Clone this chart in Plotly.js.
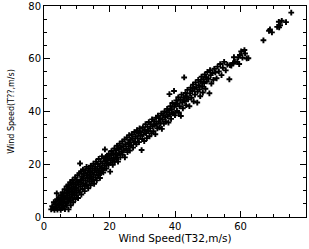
<!DOCTYPE html>
<html>
<head>
<meta charset="utf-8">
<script src="https://cdn.plot.ly/plotly-3.0.1.min.js"></script>
<style>html,body{margin:0;padding:0;background:#fff;}#chart{width:309px;height:249px;}</style>
</head>
<body>
<div id="chart"></div>
<script>
// Wind speed from T32 (x) versus wind speed from T?? (y), m/s
const windT32 = [
  2.2,2.5,2.8,3.0,3.2,3.4,3.6,3.7,3.9,4.0,4.1,4.3,4.5,4.6,4.8,
  5.0,5.1,5.2,5.3,5.5,5.6,5.7,5.8,6.0,6.1,6.2,6.3,6.4,6.5,6.6,
  6.8,6.9,7.0,7.1,7.2,7.3,7.4,7.5,7.6,7.7,7.8,7.9,8.0,8.1,8.2,
  8.3,8.4,8.5,8.6,8.7,8.8,8.9,9.0,9.1,9.2,9.3,9.5,9.6,9.7,9.8,9.9,10.0,10.0,
  10.2,10.3,10.4,10.5,10.6,10.8,10.9,11.0,11.1,11.2,11.3,11.4,11.5,11.6,11.8,11.9,12.0,
  12.1,12.2,12.4,12.5,12.6,12.7,12.9,13.0,13.1,13.3,13.4,13.5,13.7,13.8,13.9,14.0,14.1,14.2,
  14.3,14.4,14.6,14.7,14.8,15.0,15.1,15.2,15.3,15.5,15.6,15.8,15.9,16.0,16.1,
  16.3,16.4,16.5,16.7,16.8,17.0,17.1,17.3,17.4,17.6,17.7,17.9,18.0,18.1,18.3,
  18.5,18.6,18.7,18.9,19.0,19.2,19.4,19.5,19.7,19.8,20.0,20.2,20.3,
  20.5,20.6,20.8,21.0,21.1,21.3,21.5,21.6,21.8,22.0,22.1,22.3,
  22.5,22.6,22.8,23.0,23.1,23.3,23.5,23.7,23.9,24.0,
  24.2,24.4,24.6,24.7,24.9,25.1,25.3,25.5,25.7,25.9,26.0,
  26.1,26.2,26.4,26.6,26.8,27.0,27.2,27.4,27.6,27.8,28.0,
  28.2,28.4,28.6,28.8,29.0,29.2,29.4,29.6,29.8,30.0,
  30.2,30.4,30.6,30.8,31.0,31.2,31.4,31.6,31.8,32.0,
  32.2,32.4,32.6,32.8,33.0,33.2,33.4,33.6,33.8,34.0,
  34.2,34.4,34.6,34.8,35.0,35.2,35.4,35.6,35.8,36.0,
  36.2,36.4,36.6,36.8,37.0,37.2,37.4,37.6,37.8,38.0,
  38.2,38.3,38.4,38.6,38.8,39.0,39.2,39.4,39.7,39.8,40.0,
  40.2,40.4,40.6,40.8,41.0,41.2,41.4,41.6,41.8,42.0,
  42.2,42.4,42.6,42.8,43.0,43.2,43.4,43.6,43.8,44.0,44.4,
  44.6,44.8,45.0,45.3,45.5,45.7,45.9,46.1,46.3,
  46.5,46.8,46.9,47.1,47.3,47.5,47.7,47.9,48.1,
  48.3,48.5,48.7,48.9,49.1,49.3,49.5,49.7,49.9,
  50.2,50.5,50.7,50.9,51.1,51.4,51.7,52.0,
  52.3,52.7,53.0,53.4,53.8,54.2,54.6,55.0,55.5,56.0,
  56.6,56.8,57.2,57.8,58.0,58.3,59.0,59.3,59.6,59.8,60.2,60.6,61.2,61.4,61.9,62.4,
  67.0,68.7,69.0,69.6,71.2,71.7,71.8,72.1,72.6,73.9,75.5
];
const windT = [
  2.9,4.1,3.3,5.6,2.7,4.8,5.8,3.5,9.0,6.7,2.8,4.4,7.5,5.2,3.6,
  6.2,2.7,8.3,4.6,7.0,3.4,9.4,5.8,4.2,8.0,6.6,10.5,3.0,7.4,5.3,
  9.1,11.6,4.5,6.9,8.2,10.2,12.1,2.9,5.9,9.6,7.5,11.0,13.2,6.4,4.4,
  8.6,10.6,12.4,7.3,14.0,9.6,5.6,11.5,13.0,8.2,10.3,15.0,6.8,12.2,9.2,14.1,8.3,11.0,
  13.4,15.8,7.2,10.1,12.3,16.6,9.4,20.3,14.0,11.6,17.2,8.5,13.0,15.2,10.6,18.0,12.6,
  14.6,16.4,9.8,11.8,17.6,13.8,15.7,19.0,12.2,14.8,16.9,10.9,18.4,13.4,15.9,14.6,17.4,12.0,
  19.4,15.2,13.4,16.8,18.3,14.2,20.2,16.0,12.6,17.6,19.0,15.0,21.0,17.0,13.9,
  18.4,20.1,15.9,22.0,17.5,19.3,14.8,21.0,16.6,18.6,23.0,20.3,17.8,16.9,22.2,
  19.4,25.6,21.2,22.8,18.4,20.3,23.2,21.6,19.8,24.0,22.2,17.2,20.6,
  23.4,25.0,21.5,19.8,24.2,22.6,26.0,20.9,23.8,25.2,22.0,27.0,
  23.5,21.0,25.8,24.2,27.8,22.6,26.3,24.8,28.6,23.6,
  26.8,25.3,29.4,22.6,27.6,25.9,30.1,24.6,28.2,26.7,31.0,
  28.1,25.2,29.3,27.2,31.4,29.9,26.3,28.4,32.2,28.5,30.6,
  27.6,32.9,29.8,31.6,28.4,33.6,30.8,32.2,25.4,29.6,
  34.0,31.3,28.8,33.0,35.2,31.8,29.9,34.2,32.6,36.0,
  30.6,33.6,35.2,31.8,37.0,34.4,32.5,36.2,34.9,31.4,
  37.6,35.3,33.6,38.4,36.2,34.0,37.5,35.6,39.2,33.4,
  37.0,38.6,35.4,40.0,37.8,36.2,39.6,41.0,38.2,35.8,
  40.4,46.6,38.8,42.0,37.2,40.9,43.2,39.4,47.8,41.8,38.6,
  42.6,44.2,40.2,43.0,45.4,39.6,42.0,44.4,38.3,46.4,
  43.4,41.2,45.2,52.9,44.0,47.0,42.4,45.8,48.2,44.6,42.0,
  46.8,49.0,45.2,47.8,50.2,43.8,48.6,46.4,51.0,
  49.2,43.4,47.6,52.0,50.0,48.4,45.8,51.4,53.2,
  49.4,47.2,52.2,50.8,54.0,48.6,53.0,51.4,55.0,
  52.4,46.9,55.7,53.8,50.6,54.6,52.0,56.2,
  54.8,52.6,57.0,55.2,58.0,53.8,56.6,58.8,55.6,57.8,
  52.2,57.6,57.4,58.4,60.6,58.8,58.8,60.5,58.0,61.4,62.8,60.4,63.3,62.0,60.1,60.2,
  67.0,70.6,71.1,70.0,72.1,74.0,71.9,72.7,74.4,73.9,77.5
];
const axisTicks = [0, 20, 40, 60, 80];

const fnt = {family: 'DejaVu Sans, sans-serif', color: '#000'};
function axis(titleText, titleSize, standoff) {
  return {
    range: [0, 80], tickvals: axisTicks, ticktext: axisTicks.map(String),
    ticks: 'inside', ticklen: 6, tickwidth: 1, tickcolor: '#000',
    minor: {dtick: 5, tick0: 0, ticks: 'inside', ticklen: 3, tickwidth: 1, tickcolor: '#000', showgrid: false},
    showline: true, linecolor: '#000', linewidth: 1, mirror: 'allticks',
    showgrid: false, zeroline: false,
    tickfont: Object.assign({size: 10}, fnt),
    title: {text: titleText, font: Object.assign({size: titleSize}, fnt), standoff: standoff}
  };
}
const layout = {
  width: 309, height: 249,
  margin: {l: 44, r: 3, t: 6, b: 32},
  paper_bgcolor: '#fff', plot_bgcolor: '#fff',
  showlegend: false,
  xaxis: axis('Wind Speed(T32,m/s)', 10.5, 0),
  yaxis: axis('Wind Speed(T??,m/s)', 8, 12)
};
Plotly.newPlot('chart', [{
  type: 'scatter', mode: 'markers', x: windT32, y: windT,
  marker: {symbol: 'cross', size: 4.8, color: '#000', line: {width: 0}},
  hoverinfo: 'skip'
}], layout, {staticPlot: true, displayModeBar: false});
</script>
</body>
</html>
